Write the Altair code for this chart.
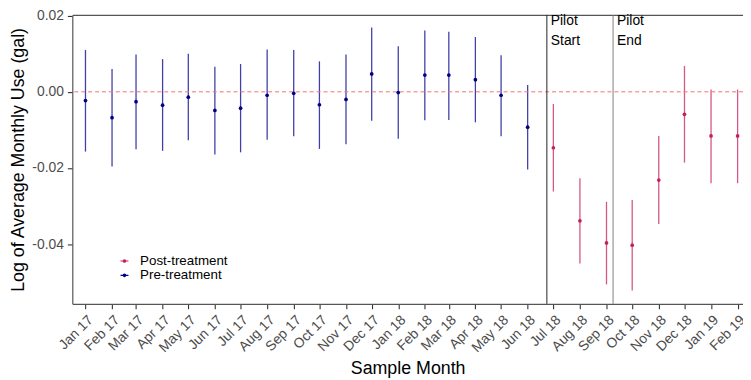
import altair as alt
import pandas as pd

# ---------------- data ----------------
months = [
    "2017-01-01", "2017-02-01", "2017-03-01", "2017-04-01", "2017-05-01", "2017-06-01",
    "2017-07-01", "2017-08-01", "2017-09-01", "2017-10-01", "2017-11-01", "2017-12-01",
    "2018-01-01", "2018-02-01", "2018-03-01", "2018-04-01", "2018-05-01", "2018-06-01",
    "2018-07-01", "2018-08-01", "2018-09-01", "2018-10-01", "2018-11-01", "2018-12-01",
    "2019-01-01", "2019-02-01",
]
groups = ["Pre-treatment"] * 18 + ["Post-treatment"] * 8
estimates = [
    -0.0023, -0.0068, -0.0026, -0.0035, -0.0014, -0.0049, -0.0043, -0.0009, -0.0004,
    -0.0034, -0.0020, 0.0047, -0.0002, 0.0044, 0.0044, 0.0032, -0.0009, -0.0093,
    -0.0147, -0.0339, -0.0397, -0.0403, -0.0232, -0.0059, -0.0116, -0.0116,
]
ci_low = [
    -0.0157, -0.0196, -0.0151, -0.0155, -0.0127, -0.0165, -0.0159, -0.0126, -0.0117,
    -0.0150, -0.0138, -0.0076, -0.0123, -0.0075, -0.0074, -0.0080, -0.0117, -0.0204,
    -0.0262, -0.0451, -0.0506, -0.0522, -0.0347, -0.0186, -0.0240, -0.0240,
]
ci_high = [
    0.0110, 0.0060, 0.0098, 0.0086, 0.0100, 0.0066, 0.0073, 0.0111, 0.0110,
    0.0080, 0.0098, 0.0169, 0.0120, 0.0161, 0.0158, 0.0144, 0.0096, 0.0018,
    -0.0032, -0.0227, -0.0289, -0.0284, -0.0116, 0.0068, 0.0006, 0.0006,
]

series_names = ["Post-treatment", "Pre-treatment"]
series_colors = ["#C51F5D", "#00008B"]

pilot_dates = ["2018-06-23T10:00:00Z", "2018-09-08T16:00:00Z"]
pilot_labels = ["Pilot\nStart", "Pilot\nEnd"]
pilot_label_y = [0.0176, 0.0176]
pilot_line_colors = ["#222222", "#808080"]

zero_line = [0.0]
y_ticks = [-0.04, -0.02, 0.0, 0.02]
y_domain = [-0.0557, 0.0202]

df = pd.DataFrame({"month": months, "group": groups, "est": estimates,
                   "lo": ci_low, "hi": ci_high})
pilot_df = pd.DataFrame({"date": pilot_dates, "label": pilot_labels,
                         "y": pilot_label_y, "line_color": pilot_line_colors})
zero_df = pd.DataFrame({"y": zero_line})

FONT = "Liberation Sans"

x_scale = alt.Scale(
    type="utc",
    domain=[alt.DateTime(year=2016, month=12, date=16, hours=15, utc=True),
            alt.DateTime(year=2019, month=2, date=7, hours=7, utc=True)],
)
y_scale = alt.Scale(domain=y_domain, nice=False, zero=False)

x_axis = alt.Axis(
    orient="bottom",
    title="Sample Month",
    tickCount={"interval": "month", "step": 1},
    labelExpr="utcFormat(datum.value, '%b %y')",
    labelAngle=315, labelAlign="right", labelBaseline="top",
    labelOverlap=False, labelBound=False, labelFlush=False,
    tickSize=5, labelPadding=4, grid=False, titlePadding=5,
)
x_top = alt.Axis(orient="top", labels=False, ticks=False, title=None, grid=False)
y_axis = alt.Axis(
    orient="left",
    title="Log of Average Monthly Use (gal)",
    values=y_ticks,
    labelExpr="(datum.value < 0 ? '-' : '') + format(abs(datum.value), '.2f')",
    tickSize=5, labelPadding=4, grid=False, titlePadding=4,
)
color = alt.Color(
    "group:N",
    scale=alt.Scale(domain=series_names, range=series_colors),
    legend=alt.Legend(
        title=None, orient="none", legendX=46, legendY=242,
        symbolType="M-1,-0.15H1V0.15H-1Z M0.45,0A0.45,0.45,0,1,1,-0.45,0A0.45,0.45,0,1,1,0.45,0Z",
        symbolSize=64, symbolStrokeWidth=0, symbolOpacity=1,
        labelFontSize=13.5, labelColor="black", labelFont=FONT,
        labelOffset=9, rowPadding=-0.5, padding=0,
    ),
)

errbars = alt.Chart(df).mark_rule(strokeWidth=1.3, opacity=0.75).encode(
    x=alt.X("month:T", scale=x_scale, axis=x_axis),
    y=alt.Y("lo:Q", scale=y_scale, axis=y_axis),
    y2="hi:Q",
    color=color,
)
points = alt.Chart(df).mark_circle(size=14, opacity=1).encode(
    x=alt.X("month:T", scale=x_scale, axis=None),
    y=alt.Y("est:Q", scale=y_scale, axis=y_axis),
    color=color,
)
zero = alt.Chart(zero_df).mark_rule(color="#F47272", strokeDash=[4, 3], strokeWidth=1).encode(
    y=alt.Y("y:Q", scale=y_scale, axis=y_axis),
)
pilot_lines = alt.Chart(pilot_df).mark_rule(strokeWidth=1).encode(
    x=alt.X("date:T", scale=x_scale, axis=None),
    stroke=alt.Stroke("line_color:N", scale=None),
)
pilot_text = alt.Chart(pilot_df).mark_text(
    align="left", baseline="alphabetic", dx=4, fontSize=14, font=FONT,
    lineBreak="\n", lineHeight=20, color="black",
).encode(
    x=alt.X("date:T", scale=x_scale, axis=x_top),
    y=alt.Y("y:Q", scale=y_scale, axis=y_axis),
    text="label:N",
)

chart = alt.layer(errbars, zero, pilot_lines, points, pilot_text).resolve_axis(
    x="independent"
).properties(
    width=678, height=292,
    autosize=alt.AutoSizeParams(type="none"),
    padding={"left": 65, "top": 5, "right": 0, "bottom": 75},
).configure_view(stroke=None).configure_axis(
    domainColor="#555555", domainWidth=1.2, tickColor="#333333", tickWidth=1.1,
    labelFont=FONT, labelFontSize=14, labelColor="#4D4D4D",
    titleFont=FONT, titleFontSize=18, titleColor="black", titleFontWeight="normal",
)

chart.save("out.html", embed_options={"renderer": "svg", "actions": False})
